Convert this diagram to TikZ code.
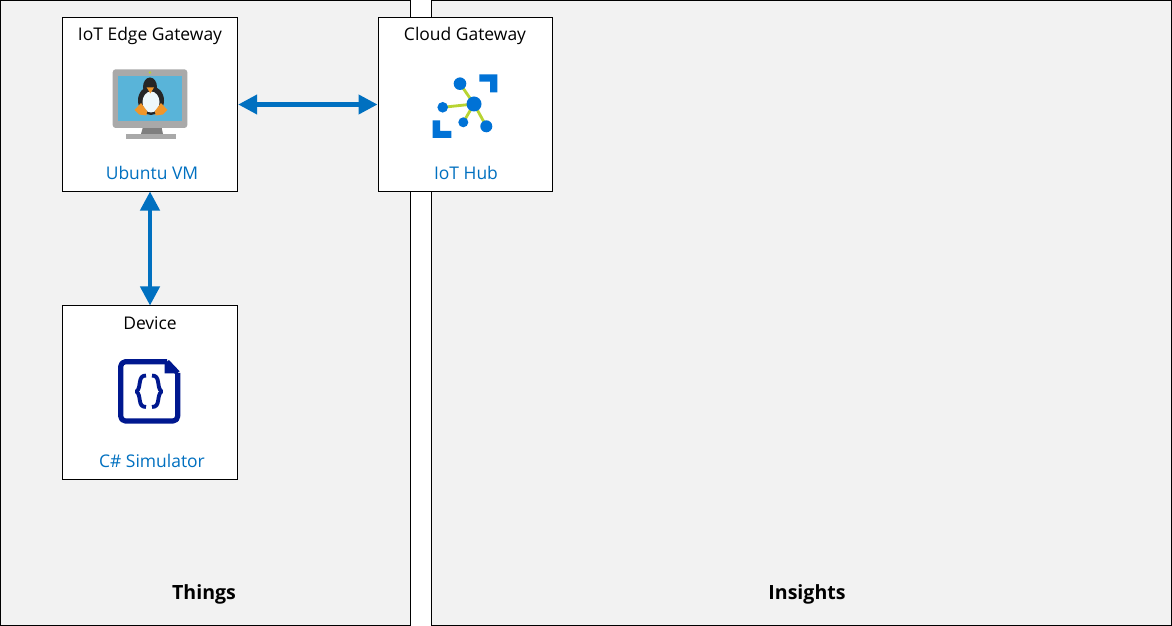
\documentclass[tikz,border=0pt]{standalone}
\usepackage{fontspec}
\setmainfont{Open Sans}
\usetikzlibrary{arrows.meta,positioning,calc}
\usepackage{xcolor}
\definecolor{panelgray}{HTML}{F2F2F2}
\definecolor{azureblue}{HTML}{0070C0}
\definecolor{hubblue}{HTML}{0072D6}
\definecolor{hublime}{HTML}{B8D432}
\definecolor{docblue}{HTML}{00188F}
\definecolor{screenblue}{HTML}{59B4D9}
\definecolor{bezel}{HTML}{A9A9A9}
\definecolor{standgray}{HTML}{7F7F7F}
\definecolor{tuxorange}{HTML}{F0962A}
\tikzset{
    panel/.style={draw=black,line width=0.85pt,fill=panelgray},
    tilebox/.style={draw=black,line width=0.85pt,fill=white,minimum width=5.22cm,minimum height=5.19cm,inner sep=0pt},
    tiletitle/.style={font=\fontsize{14.9}{18}\selectfont,text=black,inner sep=0pt},
    tilename/.style={font=\fontsize{14.9}{18}\selectfont,text=azureblue,inner sep=0pt},
    zonename/.style={font=\fontsize{16.7}{20}\selectfont\bfseries,text=black,inner sep=0pt},
    link/.style={azureblue,line width=3.6pt,{Triangle[length=0.57cm,width=0.57cm]}-{Triangle[length=0.57cm,width=0.57cm]}}
}
\begin{document}
\begin{tikzpicture}[x=0.03cm,y=-0.03cm]
    \useasboundingbox (0,0) rectangle (1172,626);
    \draw[panel] (0.5,0.5) rectangle (410.5,625.5);
    \draw[panel] (431.5,0.5) rectangle (1171.5,625.5);
    \node[zonename] (things) at (204,594) {Things};
    \node[zonename] (insights) at (807,594) {Insights};
    \node[tilebox] (gateway) at (150,104.5) {};
    \node[tilebox] (cloud) at (465,104.5) {};
    \node[tilebox] (device) at (150,392.5) {};
    \node[tiletitle] (gatewaytitle) at (150,36) {IoT Edge Gateway};
    \node[tiletitle] (cloudtitle) at (465,36) {Cloud Gateway};
    \node[tiletitle] (devicetitle) at (150,323) {Device};
    \node[tilename] (gatewayname) at (152,173) {Ubuntu VM};
    \node[tilename] (cloudname) at (466,173) {IoT Hub};
    \node[tilename] (devicename) at (152,461) {C\# Simulator};
    \draw[link,shorten <=0.6pt] (gateway.east) -- (cloud.west);
    \draw[link] (gateway.south) -- (device.north);
    \begin{scope}
        \fill[standgray] (142.7,128) -- (161.7,128) -- (163,134) -- (141,134) -- cycle;
        \fill[bezel] (126,134) rectangle (176,139);
        \fill[bezel,rounded corners=2.5pt] (112.7,69.3) rectangle (187.3,128);
        \fill[screenblue] (118,75.7) rectangle (182,121);
        \fill[hublime] (150,72.5) circle (1.3);
        \fill[black!85] (150,87) ellipse (7 and 9.5);
        \fill[black!85] (151,100.5) ellipse (13 and 14.5);
        \fill[white!90!screenblue] (151,102) ellipse (8.5 and 10.5);
        \fill[tuxorange] (146.7,87.5) -- (154,87.5) -- (150.3,93.5) -- cycle;
        \fill[tuxorange] (134.5,110) -- (141,103) -- (147,111) -- (146.5,115.5) -- (139,114.5) -- cycle;
        \fill[tuxorange] (167.5,110) -- (161,103) -- (155,111) -- (155.5,115.5) -- (163,114.5) -- cycle;
    \end{scope}
    \begin{scope}
        \draw[hublime,line width=2.4pt] (474,104) -- (460,83.7);
        \draw[hublime,line width=2.4pt] (474,104) -- (442.7,107.3);
        \draw[hublime,line width=2.4pt] (474,104) -- (463.3,122.3);
        \draw[hublime,line width=2.4pt] (474,104) -- (486.3,126.3);
        \fill[hubblue] (474,104) circle (7.5);
        \fill[hubblue] (460,83.7) circle (6.3);
        \fill[hubblue] (442.7,107.3) circle (5.3);
        \fill[hubblue] (463.3,122.3) circle (5);
        \fill[hubblue] (486.3,126.3) circle (6);
        \fill[hubblue] (479.3,74.3) -- (497.3,74.3) -- (497.3,92.3) -- (490,92.3) -- (490,81.7) -- (479.3,81.7) -- cycle;
        \fill[hubblue] (432.7,120.3) -- (440,120.3) -- (440,131) -- (451.3,131) -- (451.3,138) -- (432.7,138) -- cycle;
    \end{scope}
    \begin{scope}
        \draw[docblue,line width=4.4pt,line join=round,rounded corners=4pt] (167,361.7) -- (120.7,361.7) -- (120.7,421) -- (177.7,421) -- (177.7,373);
        \draw[docblue,line width=4.4pt,line join=round] (167,361.7) -- (177.7,373);
        \fill[docblue] (164.5,361.7) -- (177.7,373.5) -- (164.5,373.5) -- cycle;
        \draw[docblue,line width=3.3pt,line join=round] (146,375.5) .. controls (137,375.5) and (142,387) .. (136.5,391.5) .. controls (142,396) and (137,407) .. (146,407);
        \draw[docblue,line width=3.3pt,line join=round] (152,375.5) .. controls (161,375.5) and (156,387) .. (161.5,391.5) .. controls (156,396) and (161,407) .. (152,407);
    \end{scope}
\end{tikzpicture}
\end{document}
